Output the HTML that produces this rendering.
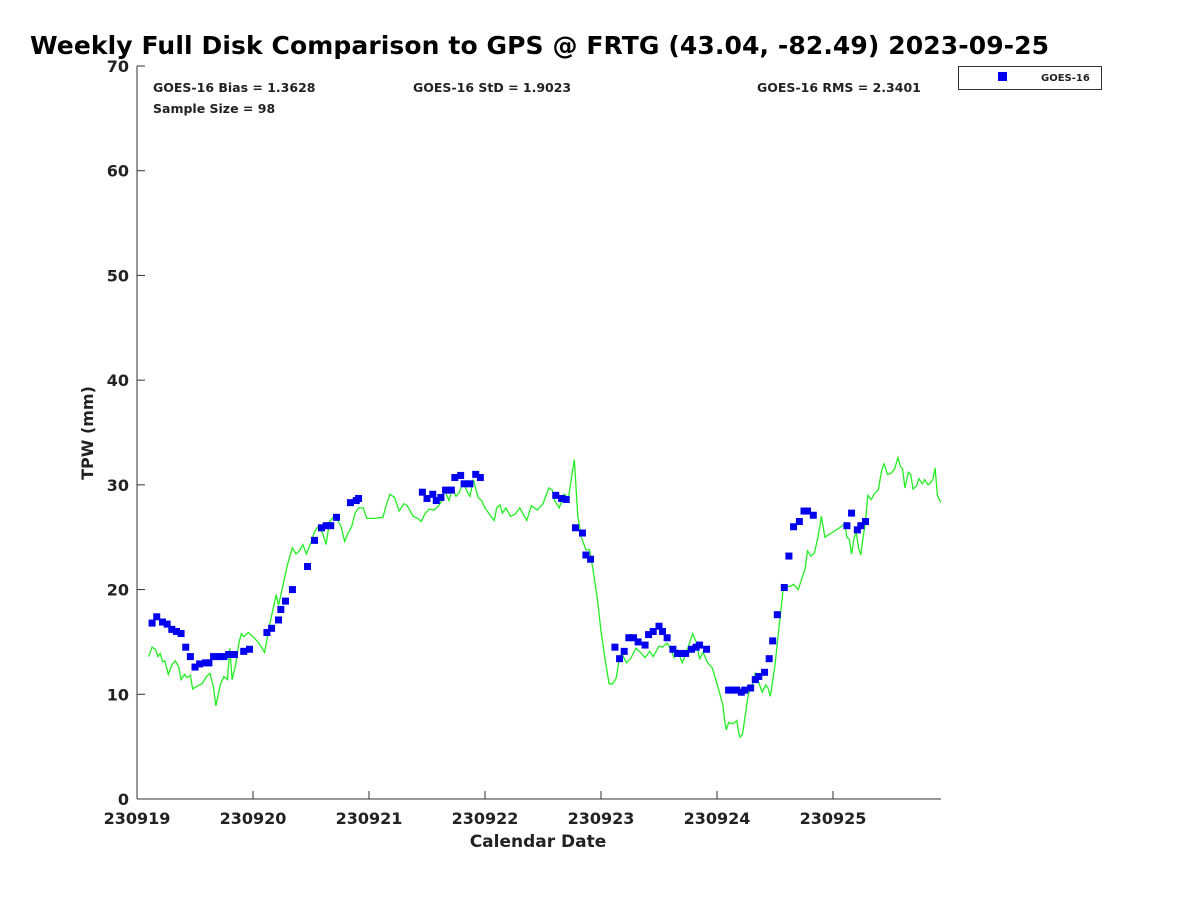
<!DOCTYPE html>
<html><head><meta charset="utf-8"><style>
body{margin:0;background:#fff;font-family:"Liberation Sans",sans-serif}
svg text{font-family:"DejaVu Sans","Liberation Sans",sans-serif;font-weight:bold;fill:#222}
</style></head><body>
<svg id="chart" width="1200" height="900" xmlns="http://www.w3.org/2000/svg">
<rect width="1200" height="900" fill="#fff"/>
<text x="30" y="54" font-size="25" letter-spacing="0.1" style="fill:#000">Weekly Full Disk Comparison to GPS @ FRTG (43.04, -82.49) 2023-09-25</text>
<g id="axes"></g>
<g id="marks"></g>
<text x="153" y="92" font-size="12.5">GOES-16 Bias = 1.3628</text>
<text x="153" y="113" font-size="12.5">Sample Size = 98</text>
<text x="413" y="92" font-size="12.5">GOES-16 StD = 1.9023</text>
<text x="757" y="92" font-size="12.5">GOES-16 RMS = 2.3401</text>
<g>
<rect x="958.5" y="66.5" width="143" height="23" fill="#fff" stroke="#333"/>
<rect x="998" y="72" width="9" height="9" fill="#0000ee"/>
<text x="1041" y="81" font-size="10">GOES-16</text>
</g>
<text font-size="16" transform="translate(93,433) rotate(-90)" text-anchor="middle">TPW (mm)</text>
<text x="538" y="847" font-size="17" text-anchor="middle">Calendar Date</text>
</svg>
<script>
const yTicks=[0,10,20,30,40,50,60,70];
const xTickLabels=["230919","230920","230921","230922","230923","230924","230925"];
const goesDays=[0.13,0.17,0.22,0.26,0.30,0.34,0.38,0.42,0.46,0.50,0.54,0.59,0.62,0.66,0.71,0.75,0.79,0.84,0.92,0.97,1.12,1.16,1.22,1.24,1.28,1.34,1.47,1.53,1.59,1.63,1.67,1.72,1.84,1.89,1.91,2.46,2.50,2.55,2.58,2.62,2.66,2.71,2.74,2.79,2.82,2.87,2.92,2.96,3.61,3.66,3.70,3.78,3.84,3.87,3.91,4.12,4.16,4.20,4.24,4.28,4.32,4.38,4.41,4.45,4.50,4.53,4.57,4.62,4.66,4.70,4.73,4.78,4.82,4.85,4.91,5.10,5.14,5.17,5.21,5.24,5.29,5.33,5.36,5.41,5.45,5.48,5.52,5.58,5.62,5.66,5.71,5.75,5.78,5.83,6.12,6.16,6.21,6.24,6.28];
const goesTPW=[16.8,17.4,16.9,16.7,16.2,16.0,15.8,14.5,13.6,12.6,12.9,13.0,13.0,13.6,13.6,13.6,13.8,13.8,14.1,14.3,15.9,16.3,17.1,18.1,18.9,20.0,22.2,24.7,25.9,26.1,26.1,26.9,28.3,28.5,28.7,29.3,28.7,29.1,28.5,28.8,29.5,29.5,30.7,30.9,30.1,30.1,31.0,30.7,29.0,28.7,28.6,25.9,25.4,23.3,22.9,14.5,13.4,14.1,15.4,15.4,15.0,14.7,15.7,16.0,16.5,16.0,15.4,14.3,13.9,13.9,13.9,14.3,14.5,14.7,14.3,10.4,10.4,10.4,10.2,10.4,10.6,11.4,11.7,12.1,13.4,15.1,17.6,20.2,23.2,26.0,26.5,27.5,27.5,27.1,26.1,27.3,25.7,26.1,26.5];
const gpsDays=[0.1,0.13,0.16,0.18,0.2,0.22,0.24,0.27,0.3,0.33,0.36,0.38,0.41,0.43,0.46,0.48,0.52,0.56,0.6,0.63,0.66,0.68,0.72,0.75,0.78,0.8,0.82,0.85,0.88,0.9,0.92,0.96,1.0,1.05,1.1,1.15,1.2,1.22,1.26,1.3,1.34,1.37,1.4,1.43,1.46,1.5,1.53,1.56,1.6,1.63,1.66,1.7,1.73,1.76,1.79,1.82,1.85,1.88,1.91,1.95,1.98,2.05,2.12,2.15,2.18,2.22,2.26,2.3,2.33,2.38,2.42,2.45,2.48,2.52,2.56,2.6,2.63,2.65,2.69,2.72,2.75,2.78,2.81,2.84,2.87,2.9,2.94,2.97,3.0,3.05,3.08,3.1,3.13,3.15,3.18,3.22,3.26,3.3,3.33,3.36,3.4,3.45,3.5,3.55,3.58,3.6,3.64,3.68,3.72,3.75,3.77,3.8,3.83,3.87,3.9,3.93,3.97,4.0,4.04,4.07,4.1,4.13,4.16,4.18,4.22,4.26,4.3,4.34,4.38,4.42,4.45,4.5,4.53,4.57,4.6,4.63,4.66,4.7,4.73,4.76,4.79,4.82,4.85,4.88,4.92,4.96,5.0,5.05,5.07,5.08,5.1,5.14,5.17,5.19,5.2,5.22,5.27,5.3,5.33,5.36,5.39,5.42,5.44,5.46,5.5,5.54,5.57,5.6,5.63,5.66,5.7,5.73,5.76,5.78,5.81,5.84,5.87,5.9,5.93,6.0,6.07,6.1,6.12,6.14,6.16,6.18,6.2,6.22,6.24,6.26,6.28,6.3,6.33,6.36,6.39,6.42,6.44,6.47,6.5,6.53,6.56,6.58,6.6,6.62,6.65,6.67,6.69,6.72,6.74,6.77,6.79,6.82,6.84,6.86,6.88,6.9,6.93];
const gpsTPW=[13.6,14.5,14.3,13.6,13.9,13.1,13.2,11.9,12.8,13.2,12.6,11.4,11.9,11.6,11.8,10.5,10.8,11.0,11.7,12.0,10.6,8.9,11.0,11.7,11.4,14.4,11.4,12.8,15.0,15.8,15.5,15.9,15.5,14.9,14.0,17.0,19.5,18.5,20.5,22.5,24.0,23.4,23.7,24.3,23.4,24.5,25.5,26.0,25.4,24.3,26.5,27.0,26.6,26.0,24.6,25.4,26.0,27.3,27.8,27.8,26.8,26.8,26.9,28.1,29.1,28.8,27.5,28.2,28.0,27.0,26.8,26.5,27.2,27.7,27.6,28.0,28.5,29.5,28.5,29.7,28.9,29.3,30.3,29.5,28.9,30.5,28.8,28.5,27.8,27.0,26.6,27.8,28.1,27.3,27.8,27.0,27.2,27.8,27.2,26.6,28.0,27.6,28.2,29.7,29.5,28.5,27.8,29.1,28.8,31.0,32.4,27.0,25.0,23.8,23.8,22.0,19.0,16.0,13.0,11.0,11.0,11.5,13.5,13.9,13.0,13.5,14.4,14.0,13.5,14.1,13.6,14.6,14.5,14.9,14.3,13.5,14.2,13.0,13.8,14.8,15.8,15.0,13.4,14.0,13.0,12.5,11.0,9.0,7.2,6.6,7.3,7.2,7.5,6.2,5.9,6.2,10.0,10.8,12.0,11.1,10.2,10.9,10.6,9.8,12.8,17.0,20.0,20.3,20.3,20.5,20.0,21.0,22.0,23.7,23.2,23.5,25.0,27.0,25.0,25.5,26.0,26.3,25.0,24.8,23.4,24.8,25.5,24.0,23.3,25.0,26.5,29.0,28.6,29.2,29.5,31.4,32.0,31.0,31.1,31.5,32.6,31.8,31.5,29.7,31.2,31.0,29.6,29.9,30.6,30.1,30.5,30.0,30.2,30.5,31.6,29.0,28.3];
const NS="http://www.w3.org/2000/svg";
const X0=137,X1=941,DAYPX=116,Y0=799,YPX=733/70;
function xs(d){return X0+d*DAYPX;}
function ys(v){return Y0-v*YPX;}
function mk(t,a,p){const e=document.createElementNS(NS,t);for(const k in a)e.setAttribute(k,a[k]);p.appendChild(e);return e;}
const axes=document.getElementById('axes'),marks=document.getElementById('marks');
let l=mk('line',{x1:X0,y1:66,x2:X0,y2:Y0,stroke:'#333','stroke-width':1},axes);


l=mk('line',{x1:X0,y1:Y0,x2:X1,y2:Y0,stroke:'#333','stroke-width':1},axes);


yTicks.forEach(v=>{const y=ys(v);
 mk('line',{x1:X0,y1:y,x2:X0+8,y2:y,stroke:'#333'},axes);
 const t=mk('text',{x:X0-8,y:y+6,'font-size':16,'text-anchor':'end'},axes);t.textContent=v;
 
 });
xTickLabels.forEach((s,i)=>{const x=xs(i);
 mk('line',{x1:x,y1:Y0,x2:x,y2:Y0-8,stroke:'#333'},axes);
 const t=mk('text',{x:x,y:Y0+25,'font-size':16,'text-anchor':'middle'},axes);t.textContent=s;
 
 });
const p=mk('polyline',{points:gpsDays.map((d,i)=>xs(d)+','+ys(gpsTPW[i])).join(' '),fill:'none',stroke:'#22ee22','stroke-width':1.3},marks);


goesDays.forEach((d,i)=>{const r=mk('rect',{x:xs(d)-3.5,y:ys(goesTPW[i])-3.5,width:7,height:7,fill:'#0000ee'},marks);
 
 });
</script>
</body></html>
